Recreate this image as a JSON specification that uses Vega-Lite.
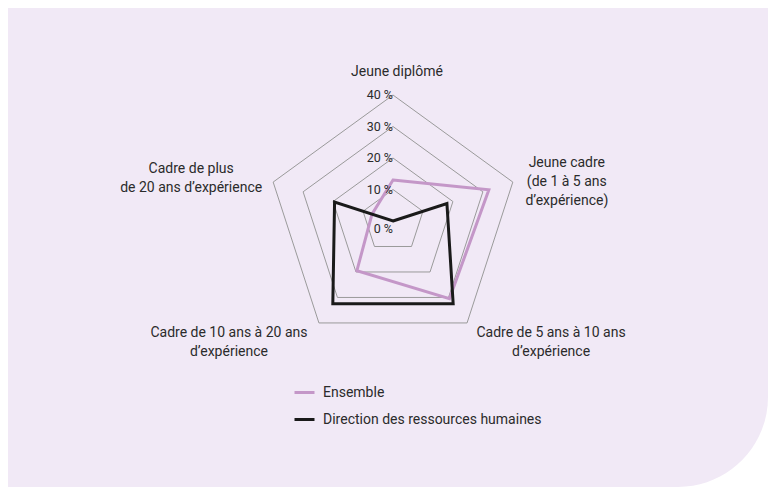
{
  "$schema": "https://vega.github.io/schema/vega-lite/v6.json",
  "width": 760,
  "height": 479,
  "autosize": {"type": "none"},
  "padding": {"left": 8, "top": 8, "right": 0, "bottom": 0},
  "background": "#ffffff",
  "config": {"view": {"stroke": null}, "font": "Roboto", "text": {"color": "#2b2b2b", "font": "Roboto"}},
  "datasets": {
    "parts": [
      {"serie": "Ensemble", "axe": "Jeune diplômé", "pct": 13},
      {"serie": "Ensemble", "axe": "Jeune cadre", "pct": 32},
      {"serie": "Ensemble", "axe": "Cadre de 5 à 10 ans", "pct": 30.5},
      {"serie": "Ensemble", "axe": "Cadre de 10 à 20 ans", "pct": 19.5},
      {"serie": "Ensemble", "axe": "Cadre de plus de 20 ans", "pct": 7},
      {"serie": "Direction des ressources humaines", "axe": "Jeune diplômé", "pct": 0},
      {"serie": "Direction des ressources humaines", "axe": "Jeune cadre", "pct": 18},
      {"serie": "Direction des ressources humaines", "axe": "Cadre de 5 à 10 ans", "pct": 32.5},
      {"serie": "Direction des ressources humaines", "axe": "Cadre de 10 à 20 ans", "pct": 32.5},
      {"serie": "Direction des ressources humaines", "axe": "Cadre de plus de 20 ans", "pct": 19.5}
    ],
    "grille": [
      {"niveau": 10, "axe": "Jeune diplômé"}, {"niveau": 10, "axe": "Jeune cadre"}, {"niveau": 10, "axe": "Cadre de 5 à 10 ans"}, {"niveau": 10, "axe": "Cadre de 10 à 20 ans"}, {"niveau": 10, "axe": "Cadre de plus de 20 ans"},
      {"niveau": 20, "axe": "Jeune diplômé"}, {"niveau": 20, "axe": "Jeune cadre"}, {"niveau": 20, "axe": "Cadre de 5 à 10 ans"}, {"niveau": 20, "axe": "Cadre de 10 à 20 ans"}, {"niveau": 20, "axe": "Cadre de plus de 20 ans"},
      {"niveau": 30, "axe": "Jeune diplômé"}, {"niveau": 30, "axe": "Jeune cadre"}, {"niveau": 30, "axe": "Cadre de 5 à 10 ans"}, {"niveau": 30, "axe": "Cadre de 10 à 20 ans"}, {"niveau": 30, "axe": "Cadre de plus de 20 ans"},
      {"niveau": 40, "axe": "Jeune diplômé"}, {"niveau": 40, "axe": "Jeune cadre"}, {"niveau": 40, "axe": "Cadre de 5 à 10 ans"}, {"niveau": 40, "axe": "Cadre de 10 à 20 ans"}, {"niveau": 40, "axe": "Cadre de plus de 20 ans"}
    ],
    "axes": [
      {"axe": "Jeune diplômé", "libelle": "Jeune diplômé"},
      {"axe": "Jeune cadre", "libelle": "Jeune cadre\n(de 1 à 5 ans\nd’expérience)"},
      {"axe": "Cadre de 5 à 10 ans", "libelle": "Cadre de 5 ans à 10 ans\nd’expérience"},
      {"axe": "Cadre de 10 à 20 ans", "libelle": "Cadre de 10 ans à 20 ans\nd’expérience"},
      {"axe": "Cadre de plus de 20 ans", "libelle": "Cadre de plus\nde 20 ans d’expérience"}
    ],
    "graduations": [
      {"niveau": 0}, {"niveau": 10}, {"niveau": 20}, {"niveau": 30}, {"niveau": 40}
    ]
  },
  "layer": [
    {
      "data": {"values": [{}]},
      "mark": {"type": "rect", "fill": "#f1e9f6", "cornerRadiusBottomRight": 90}
    },
    {
      "data": {"name": "grille"},
      "transform": [
        {"calculate": "indexof(['Jeune diplômé','Jeune cadre','Cadre de 5 à 10 ans','Cadre de 10 à 20 ans','Cadre de plus de 20 ans'], datum.axe)", "as": "k"},
        {"calculate": "PI/2 - datum.k*2*PI/5", "as": "a"},
        {"calculate": "datum.niveau*cos(datum.a)", "as": "px"},
        {"calculate": "datum.niveau*sin(datum.a)", "as": "py"}
      ],
      "mark": {"type": "line", "interpolate": "linear-closed", "stroke": "#9a9a9a", "strokeWidth": 1},
      "encoding": {
        "x": {"field": "px", "type": "quantitative", "scale": {"domain": [-122.22, 119.05], "nice": false, "zero": false}, "axis": null},
        "y": {"field": "py", "type": "quantitative", "scale": {"domain": [-84.44, 67.62], "nice": false, "zero": false}, "axis": null},
        "detail": {"field": "niveau", "type": "nominal"},
        "order": {"field": "k", "type": "quantitative"}
      }
    },
    {
      "data": {"name": "parts"},
      "transform": [
        {"calculate": "indexof(['Jeune diplômé','Jeune cadre','Cadre de 5 à 10 ans','Cadre de 10 à 20 ans','Cadre de plus de 20 ans'], datum.axe)", "as": "k"},
        {"calculate": "PI/2 - datum.k*2*PI/5", "as": "a"},
        {"calculate": "datum.pct*cos(datum.a)", "as": "px"},
        {"calculate": "datum.pct*sin(datum.a)", "as": "py"}
      ],
      "mark": {"type": "line", "interpolate": "linear-closed", "strokeWidth": 3, "strokeJoin": "miter"},
      "encoding": {
        "x": {"field": "px", "type": "quantitative", "scale": {"domain": [-122.22, 119.05], "nice": false, "zero": false}, "axis": null},
        "y": {"field": "py", "type": "quantitative", "scale": {"domain": [-84.44, 67.62], "nice": false, "zero": false}, "axis": null},
        "color": {
          "field": "serie", "type": "nominal",
          "scale": {"domain": ["Ensemble", "Direction des ressources humaines"], "range": ["#c497c8", "#1a1a1a"]},
          "legend": {
            "orient": "none", "legendX": 285, "legendY": 373, "title": null, "padding": 0,
            "symbolType": "stroke", "symbolStrokeWidth": 3, "symbolSize": 400,
            "labelFontSize": 14, "labelFont": "Roboto", "labelColor": "#2b2b2b", "labelLimit": 0,
            "labelOffset": 7, "rowPadding": 8
          }
        },
        "order": {"field": "k", "type": "quantitative"}
      }
    },
    {
      "data": {"name": "graduations"},
      "transform": [
        {"filter": "datum.niveau > 0"},
        {"calculate": "datum.niveau + ' %'", "as": "texte"},
        {"calculate": "0", "as": "px"}
      ],
      "mark": {"type": "text", "align": "right", "baseline": "middle", "fontSize": 12.5, "dx": 0},
      "encoding": {
        "x": {"field": "px", "type": "quantitative", "scale": {"domain": [-122.22, 119.05], "nice": false, "zero": false}, "axis": null},
        "y": {"field": "niveau", "type": "quantitative", "scale": {"domain": [-84.44, 67.62], "nice": false, "zero": false}, "axis": null},
        "text": {"field": "texte"}
      }
    },
    {
      "data": {"name": "graduations"},
      "transform": [
        {"filter": "datum.niveau === 0"},
        {"calculate": "datum.niveau + ' %'", "as": "texte"},
        {"calculate": "0", "as": "px"}
      ],
      "mark": {"type": "text", "align": "right", "baseline": "middle", "fontSize": 12.5, "dx": 0, "dy": 8},
      "encoding": {
        "x": {"field": "px", "type": "quantitative", "scale": {"domain": [-122.22, 119.05], "nice": false, "zero": false}, "axis": null},
        "y": {"field": "niveau", "type": "quantitative", "scale": {"domain": [-84.44, 67.62], "nice": false, "zero": false}, "axis": null},
        "text": {"field": "texte"}
      }
    },
    {
      "data": {"name": "axes"},
      "transform": [
        {"filter": "datum.axe === 'Jeune diplômé'"},
        {"calculate": "indexof(['Jeune diplômé','Jeune cadre','Cadre de 5 à 10 ans','Cadre de 10 à 20 ans','Cadre de plus de 20 ans'], datum.axe)", "as": "k"},
        {"calculate": "40*cos(PI/2 - datum.k*2*PI/5)", "as": "px"},
        {"calculate": "40*sin(PI/2 - datum.k*2*PI/5)", "as": "py"}
      ],
      "mark": {"type": "text", "align": "center", "baseline": "middle", "fontSize": 14, "lineBreak": "\n", "lineHeight": 19, "dx": 4, "dy": -23},
      "encoding": {
        "x": {"field": "px", "type": "quantitative", "scale": {"domain": [-122.22, 119.05], "nice": false, "zero": false}, "axis": null},
        "y": {"field": "py", "type": "quantitative", "scale": {"domain": [-84.44, 67.62], "nice": false, "zero": false}, "axis": null},
        "text": {"field": "libelle"}
      }
    },
    {
      "data": {"name": "axes"},
      "transform": [
        {"filter": "datum.axe === 'Jeune cadre'"},
        {"calculate": "indexof(['Jeune diplômé','Jeune cadre','Cadre de 5 à 10 ans','Cadre de 10 à 20 ans','Cadre de plus de 20 ans'], datum.axe)", "as": "k"},
        {"calculate": "40*cos(PI/2 - datum.k*2*PI/5)", "as": "px"},
        {"calculate": "40*sin(PI/2 - datum.k*2*PI/5)", "as": "py"}
      ],
      "mark": {"type": "text", "align": "center", "baseline": "middle", "fontSize": 14, "lineBreak": "\n", "lineHeight": 19, "dx": 54, "dy": -19},
      "encoding": {
        "x": {"field": "px", "type": "quantitative", "scale": {"domain": [-122.22, 119.05], "nice": false, "zero": false}, "axis": null},
        "y": {"field": "py", "type": "quantitative", "scale": {"domain": [-84.44, 67.62], "nice": false, "zero": false}, "axis": null},
        "text": {"field": "libelle"}
      }
    },
    {
      "data": {"name": "axes"},
      "transform": [
        {"filter": "datum.axe === 'Cadre de 5 à 10 ans'"},
        {"calculate": "indexof(['Jeune diplômé','Jeune cadre','Cadre de 5 à 10 ans','Cadre de 10 à 20 ans','Cadre de plus de 20 ans'], datum.axe)", "as": "k"},
        {"calculate": "40*cos(PI/2 - datum.k*2*PI/5)", "as": "px"},
        {"calculate": "40*sin(PI/2 - datum.k*2*PI/5)", "as": "py"}
      ],
      "mark": {"type": "text", "align": "center", "baseline": "middle", "fontSize": 14, "lineBreak": "\n", "lineHeight": 19, "dx": 84, "dy": 10},
      "encoding": {
        "x": {"field": "px", "type": "quantitative", "scale": {"domain": [-122.22, 119.05], "nice": false, "zero": false}, "axis": null},
        "y": {"field": "py", "type": "quantitative", "scale": {"domain": [-84.44, 67.62], "nice": false, "zero": false}, "axis": null},
        "text": {"field": "libelle"}
      }
    },
    {
      "data": {"name": "axes"},
      "transform": [
        {"filter": "datum.axe === 'Cadre de 10 à 20 ans'"},
        {"calculate": "indexof(['Jeune diplômé','Jeune cadre','Cadre de 5 à 10 ans','Cadre de 10 à 20 ans','Cadre de plus de 20 ans'], datum.axe)", "as": "k"},
        {"calculate": "40*cos(PI/2 - datum.k*2*PI/5)", "as": "px"},
        {"calculate": "40*sin(PI/2 - datum.k*2*PI/5)", "as": "py"}
      ],
      "mark": {"type": "text", "align": "center", "baseline": "middle", "fontSize": 14, "lineBreak": "\n", "lineHeight": 19, "dx": -90, "dy": 10},
      "encoding": {
        "x": {"field": "px", "type": "quantitative", "scale": {"domain": [-122.22, 119.05], "nice": false, "zero": false}, "axis": null},
        "y": {"field": "py", "type": "quantitative", "scale": {"domain": [-84.44, 67.62], "nice": false, "zero": false}, "axis": null},
        "text": {"field": "libelle"}
      }
    },
    {
      "data": {"name": "axes"},
      "transform": [
        {"filter": "datum.axe === 'Cadre de plus de 20 ans'"},
        {"calculate": "indexof(['Jeune diplômé','Jeune cadre','Cadre de 5 à 10 ans','Cadre de 10 à 20 ans','Cadre de plus de 20 ans'], datum.axe)", "as": "k"},
        {"calculate": "40*cos(PI/2 - datum.k*2*PI/5)", "as": "px"},
        {"calculate": "40*sin(PI/2 - datum.k*2*PI/5)", "as": "py"}
      ],
      "mark": {"type": "text", "align": "center", "baseline": "middle", "fontSize": 14, "lineBreak": "\n", "lineHeight": 19, "dx": -82, "dy": -13},
      "encoding": {
        "x": {"field": "px", "type": "quantitative", "scale": {"domain": [-122.22, 119.05], "nice": false, "zero": false}, "axis": null},
        "y": {"field": "py", "type": "quantitative", "scale": {"domain": [-84.44, 67.62], "nice": false, "zero": false}, "axis": null},
        "text": {"field": "libelle"}
      }
    }
  ]
}
